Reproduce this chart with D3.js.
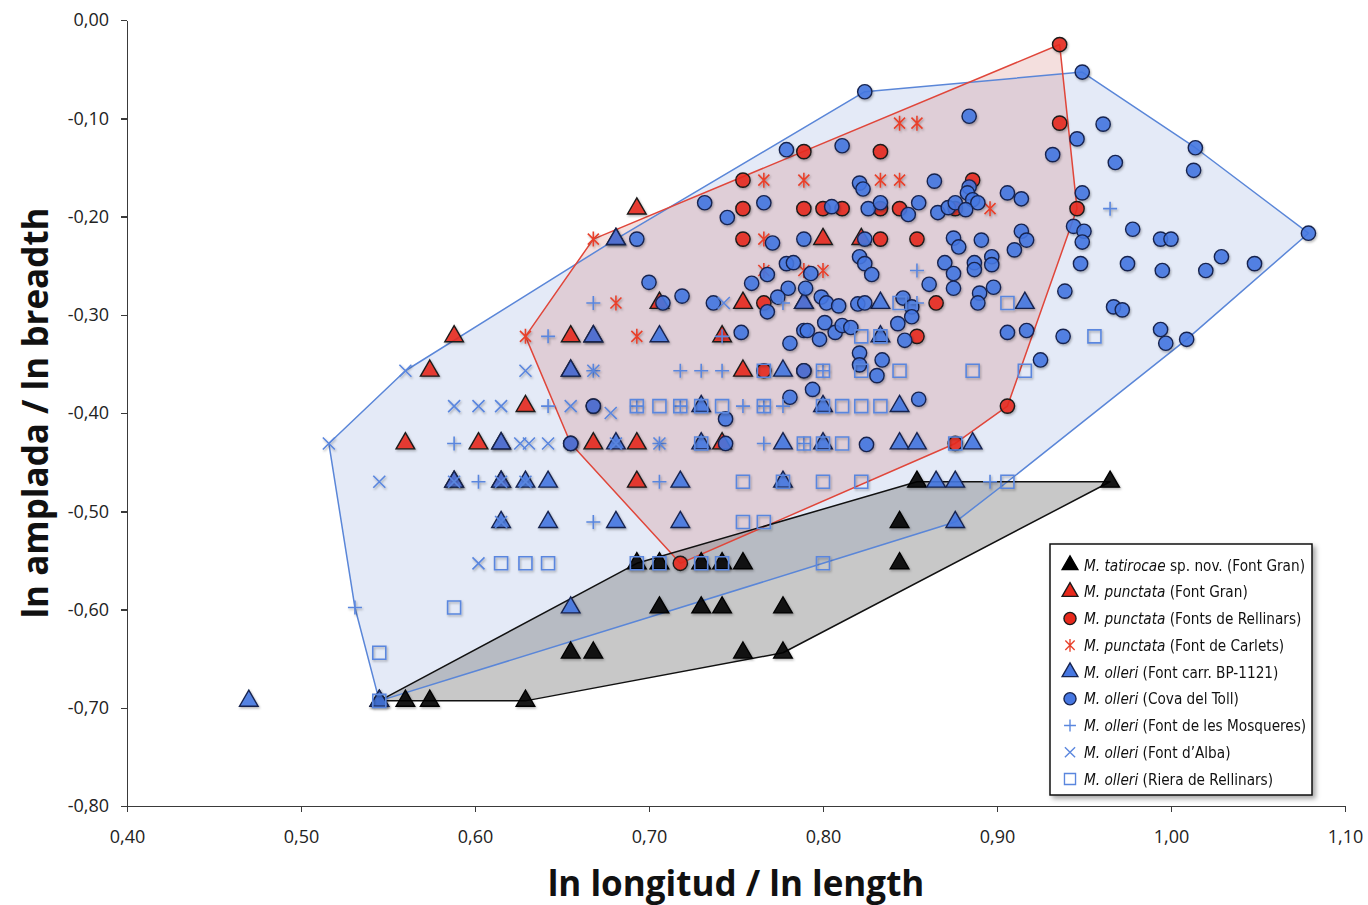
<!DOCTYPE html>
<meta charset="utf-8">
<style>
body { margin: 0; background: #fff; font-family: "Open Sans", sans-serif; }
.axis path, .axis line { fill: none; stroke: #3a3a3a; stroke-width: 1.5; shape-rendering: crispEdges; }
.axis text { font-family: "Open Sans", sans-serif; font-size: 18px; fill: #222; }
.title { font-family: "Open Sans", sans-serif; font-weight: bold; font-size: 35px; fill: #111; }
.legend text { font-family: "Liberation Sans Narrow", "DejaVu Sans Condensed", sans-serif; font-size: 15.2px; fill: #111; }
</style>
<body>
<script src="https://d3js.org/d3.v7.min.js"></script>
<script>
// ln longitud (x), ln amplada (y), one array per population
var tatirocae = [
  [0.545,-0.693],[0.560,-0.693],[0.574,-0.693],[0.629,-0.693],
  [0.655,-0.644],[0.668,-0.644],[0.754,-0.644],[0.777,-0.644],
  [0.706,-0.598],[0.730,-0.598],[0.742,-0.598],[0.777,-0.598],
  [0.693,-0.553],[0.706,-0.553],[0.730,-0.553],[0.742,-0.553],[0.754,-0.553],[0.844,-0.553],
  [0.844,-0.511],[0.854,-0.470],[0.965,-0.470]
];
var punctataFontGran = [
  [0.588,-0.322],[0.574,-0.357],[0.560,-0.431],[0.602,-0.431],[0.615,-0.431],[0.668,-0.431],
  [0.588,-0.470],[0.615,-0.470],[0.629,-0.393],[0.655,-0.322],[0.668,-0.322],[0.655,-0.357],
  [0.693,-0.192],[0.681,-0.223],[0.706,-0.288],[0.754,-0.288],[0.789,-0.288],[0.800,-0.223],
  [0.822,-0.223],[0.742,-0.322],[0.754,-0.357],[0.693,-0.431],[0.742,-0.431],[0.693,-0.470]
];
var punctataRellinars = [
  [0.936,-0.025],[0.936,-0.105],[0.833,-0.134],[0.789,-0.134],[0.754,-0.163],[0.886,-0.163],
  [0.754,-0.192],[0.789,-0.192],[0.800,-0.192],[0.811,-0.192],[0.833,-0.192],[0.844,-0.192],
  [0.876,-0.192],[0.946,-0.192],[0.754,-0.223],[0.833,-0.223],[0.854,-0.223],[0.766,-0.288],
  [0.865,-0.288],[0.854,-0.322],[0.906,-0.393],[0.876,-0.431],[0.718,-0.553],[0.655,-0.431],
  [0.668,-0.393],[0.766,-0.357],[0.789,-0.357]
];
var punctataCarlets = [
  [0.629,-0.322],[0.668,-0.223],[0.766,-0.163],[0.789,-0.163],[0.844,-0.105],[0.854,-0.105],
  [0.833,-0.163],[0.844,-0.163],[0.766,-0.223],[0.766,-0.255],[0.789,-0.255],[0.800,-0.255],
  [0.681,-0.288],[0.693,-0.322],[0.896,-0.192]
];
var olleriBP1121 = [
  [0.470,-0.693],[0.545,-0.693],[0.615,-0.431],[0.588,-0.470],[0.615,-0.470],[0.629,-0.470],
  [0.642,-0.470],[0.615,-0.511],[0.642,-0.511],[0.681,-0.511],[0.718,-0.511],[0.655,-0.598],
  [0.681,-0.431],[0.730,-0.393],[0.730,-0.431],[0.777,-0.357],[0.777,-0.431],[0.800,-0.393],
  [0.800,-0.431],[0.718,-0.470],[0.777,-0.470],[0.706,-0.322],[0.833,-0.288],[0.833,-0.322],
  [0.916,-0.288],[0.844,-0.393],[0.844,-0.431],[0.854,-0.431],[0.886,-0.431],[0.865,-0.470],
  [0.876,-0.470],[0.876,-0.511],[0.668,-0.322],[0.655,-0.357],[0.681,-0.223],[0.789,-0.288]
];
var olleriCovaToll = [
  [0.824,-0.073],[0.949,-0.053],[0.884,-0.098],[0.961,-0.106],[0.946,-0.121],[0.779,-0.132],
  [0.811,-0.128],[0.932,-0.137],[1.014,-0.130],[0.968,-0.145],[1.013,-0.153],[0.864,-0.164],
  [0.884,-0.170],[0.883,-0.176],[0.886,-0.183],[0.889,-0.186],[0.821,-0.166],[0.823,-0.172],
  [0.906,-0.176],[0.914,-0.182],[0.949,-0.176],[0.805,-0.190],[0.826,-0.192],[0.833,-0.186],
  [0.855,-0.186],[0.849,-0.198],[0.866,-0.196],[0.872,-0.191],[0.876,-0.186],[0.882,-0.193],
  [0.732,-0.186],[0.745,-0.201],[0.766,-0.186],[0.693,-0.223],[0.771,-0.227],[0.789,-0.223],
  [0.779,-0.248],[0.783,-0.247],[0.768,-0.259],[0.793,-0.258],[0.700,-0.267],[0.759,-0.268],
  [0.780,-0.273],[0.790,-0.273],[0.719,-0.281],[0.774,-0.282],[0.799,-0.282],[0.802,-0.288],
  [0.809,-0.291],[0.708,-0.288],[0.737,-0.288],[0.768,-0.297],[0.753,-0.318],[0.801,-0.308],
  [0.789,-0.316],[0.791,-0.316],[0.807,-0.318],[0.811,-0.311],[0.816,-0.313],[0.781,-0.329],
  [0.798,-0.325],[0.781,-0.384],[0.794,-0.376],[0.744,-0.406],[0.744,-0.431],[0.944,-0.210],
  [0.950,-0.215],[0.949,-0.226],[0.824,-0.223],[0.875,-0.222],[0.878,-0.231],[0.891,-0.224],
  [0.914,-0.215],[0.917,-0.224],[0.910,-0.234],[0.821,-0.241],[0.824,-0.248],[0.828,-0.259],
  [0.870,-0.247],[0.875,-0.258],[0.887,-0.247],[0.887,-0.254],[0.897,-0.241],[0.897,-0.249],
  [0.861,-0.269],[0.875,-0.273],[0.898,-0.272],[0.890,-0.278],[0.889,-0.288],[0.948,-0.248],
  [0.939,-0.276],[0.820,-0.289],[0.824,-0.288],[0.846,-0.283],[0.851,-0.292],[0.843,-0.309],
  [0.851,-0.302],[0.847,-0.326],[0.906,-0.318],[0.917,-0.316],[0.938,-0.322],[0.821,-0.339],
  [0.834,-0.346],[0.925,-0.346],[0.978,-0.213],[0.994,-0.223],[1.000,-0.223],[1.079,-0.217],
  [0.975,-0.248],[0.995,-0.255],[1.020,-0.255],[1.029,-0.241],[1.048,-0.248],[0.967,-0.292],
  [0.972,-0.295],[0.994,-0.315],[0.997,-0.329],[1.009,-0.325],[0.821,-0.351],[0.831,-0.362],
  [0.855,-0.386],[0.825,-0.432],[0.655,-0.431],[0.668,-0.393],[0.789,-0.357]
];
var olleriMosqueres = [
  [0.531,-0.598],[0.588,-0.431],[0.602,-0.470],[0.642,-0.322],[0.642,-0.393],[0.668,-0.511],
  [0.668,-0.288],[0.668,-0.357],[0.706,-0.431],[0.706,-0.470],[0.718,-0.357],[0.730,-0.357],
  [0.742,-0.357],[0.754,-0.393],[0.777,-0.393],[0.766,-0.431],[0.742,-0.322],[0.854,-0.255],
  [0.854,-0.288],[0.965,-0.192],[0.896,-0.470],[0.693,-0.393],[0.718,-0.393],[0.766,-0.393],
  [0.800,-0.357],[0.789,-0.431],[0.777,-0.288]
];
var olleriAlba = [
  [0.516,-0.431],[0.560,-0.357],[0.545,-0.470],[0.588,-0.393],[0.602,-0.393],[0.615,-0.393],
  [0.629,-0.357],[0.642,-0.431],[0.655,-0.393],[0.626,-0.431],[0.631,-0.431],[0.602,-0.553],
  [0.668,-0.357],[0.706,-0.431],[0.681,-0.431],[0.678,-0.400],[0.588,-0.470],[0.615,-0.470],
  [0.629,-0.470],[0.615,-0.511],[0.743,-0.288]
];
var olleriRiera = [
  [0.545,-0.644],[0.545,-0.693],[0.588,-0.598],[0.615,-0.553],[0.629,-0.553],[0.642,-0.553],
  [0.693,-0.553],[0.706,-0.553],[0.730,-0.553],[0.742,-0.553],[0.800,-0.553],[0.754,-0.511],
  [0.766,-0.511],[0.754,-0.470],[0.777,-0.470],[0.800,-0.470],[0.822,-0.470],[0.906,-0.470],
  [0.693,-0.393],[0.706,-0.393],[0.718,-0.393],[0.730,-0.393],[0.742,-0.393],[0.766,-0.393],
  [0.800,-0.393],[0.811,-0.393],[0.822,-0.393],[0.833,-0.393],[0.730,-0.431],[0.800,-0.431],
  [0.811,-0.431],[0.789,-0.431],[0.766,-0.357],[0.800,-0.357],[0.822,-0.357],[0.844,-0.357],
  [0.886,-0.357],[0.916,-0.357],[0.822,-0.322],[0.833,-0.322],[0.844,-0.288],[0.906,-0.288],
  [0.956,-0.322],[0.876,-0.431]
];

var xTicks = [0.40, 0.50, 0.60, 0.70, 0.80, 0.90, 1.00, 1.10];
var yTicks = [0.00, -0.10, -0.20, -0.30, -0.40, -0.50, -0.60, -0.70, -0.80];

var red = "#e8291c", blue = "#4677e2", navy = "#17244f", lineBlue = "#5a86de";

// drawing order = legend order
var series = [
  { sp: "M. tatirocae", loc: " sp. nov. (Font Gran)", data: tatirocae, type: "tri", fill: "#000", stroke: "#000" },
  { sp: "M. punctata", loc: " (Font Gran)", data: punctataFontGran, type: "tri", fill: red, stroke: "#1a1a1a" },
  { sp: "M. punctata", loc: " (Fonts de Rellinars)", data: punctataRellinars, type: "circle", fill: red, stroke: "#1a1a1a" },
  { sp: "M. punctata", loc: " (Font de Carlets)", data: punctataCarlets, type: "star", fill: "none", stroke: "#e8412c" },
  { sp: "M. olleri", loc: " (Font carr. BP-1121)", data: olleriBP1121, type: "tri", fill: blue, stroke: navy },
  { sp: "M. olleri", loc: " (Cova del Toll)", data: olleriCovaToll, type: "circle", fill: blue, stroke: navy },
  { sp: "M. olleri", loc: " (Font de les Mosqueres)", data: olleriMosqueres, type: "plus", fill: "none", stroke: lineBlue },
  { sp: "M. olleri", loc: " (Font d\u2019Alba)", data: olleriAlba, type: "cross", fill: "none", stroke: lineBlue },
  { sp: "M. olleri", loc: " (Riera de Rellinars)", data: olleriRiera, type: "square", fill: "none", stroke: lineBlue }
];

var W = 1368, H = 905;
var margin = {top: 20, right: 23, bottom: 99, left: 127};

var x = d3.scaleLinear().domain([0.4, 1.1]).range([margin.left, W - margin.right]);
var y = d3.scaleLinear().domain([-0.8, 0]).range([H - margin.bottom, margin.top]);

var svg = d3.select("body").append("svg")
    .attr("width", W)
    .attr("height", H);

var defs = svg.append("defs");
defs.append("filter").attr("id", "shadow").attr("x", "-20%").attr("y", "-20%").attr("width", "140%").attr("height", "140%")
  .append("feDropShadow").attr("dx", 1).attr("dy", 1.5).attr("stdDeviation", 1)
    .attr("flood-color", "#000").attr("flood-opacity", 0.3);
defs.append("filter").attr("id", "boxshadow").attr("x", "-10%").attr("y", "-10%").attr("width", "120%").attr("height", "120%")
  .append("feDropShadow").attr("dx", 3).attr("dy", 3).attr("stdDeviation", 2.5)
    .attr("flood-color", "#000").attr("flood-opacity", 0.35);

function markerPath(type) {
  switch (type) {
    case "tri": return d3.symbol(d3.symbolTriangle, 150)();
    case "circle": return d3.symbol(d3.symbolCircle, 160)();
    case "square": return "M-6.5,-6.5h13v13h-13Z";
    case "plus": return "M-7,0H7M0,-7V7";
    case "cross": return "M-6,-6L6,6M-6,6L6,-6";
    case "star": return "M-5.5,-5.5L5.5,5.5M-5.5,5.5L5.5,-5.5M0,-7.5V7.5";
  }
}

// ---- hulls (convex envelopes of each species) ----
function hullOf(arrays) {
  var pts = [];
  arrays.forEach(function(a) { a.forEach(function(d) { pts.push([x(d[0]), y(d[1])]); }); });
  return d3.polygonHull(pts);
}
var olleriAll = [olleriBP1121, olleriCovaToll, olleriMosqueres, olleriAlba, olleriRiera]
  .map(function(a) { return a.filter(function(d) { return d[0] > 0.5; }); }); // isolated 0,47 point left out
var hulls = [
  { pts: hullOf(olleriAll), fill: "rgba(165,185,228,0.30)", stroke: "#5a86d8" },
  { pts: hullOf([punctataRellinars, punctataCarlets]), fill: "rgba(205,110,105,0.22)", stroke: "#e0463a" },
  { pts: hullOf([tatirocae]), fill: "rgba(110,110,110,0.38)", stroke: "#111" }
];
var line = d3.line();
hulls.forEach(function(h) {
  svg.append("path").attr("d", line(h.pts) + "Z").attr("fill", h.fill).attr("stroke", "none");
});
hulls.forEach(function(h) {
  svg.append("path").attr("d", line(h.pts) + "Z").attr("fill", "none")
    .attr("stroke", h.stroke).attr("stroke-width", 1.5).attr("stroke-linejoin", "round");
});

// ---- axes ----
var fmt = d3.formatLocale({decimal: ",", thousands: ".", grouping: [3], currency: ["", ""], minus: "-"}).format(".2f");

svg.append("g")
    .attr("class", "axis")
    .attr("transform", "translate(" + margin.left + ",0)")
    .call(d3.axisLeft(y).tickValues(yTicks).tickSize(6).tickSizeOuter(0).tickPadding(12).tickFormat(fmt));

svg.append("g")
    .attr("class", "axis")
    .attr("transform", "translate(0," + (H - margin.bottom) + ")")
    .call(d3.axisBottom(x).tickValues(xTicks).tickSize(6).tickSizeOuter(0).tickPadding(18).tickFormat(fmt));

svg.selectAll(".axis .domain").attr("stroke-width", 1.8);

// ---- markers ----
series.forEach(function(s) {
  var g = svg.append("g").attr("filter", "url(#shadow)");
  g.selectAll("path")
      .data(s.data)
    .enter().append("path")
      .attr("d", markerPath(s.type))
      .attr("transform", function(d) { return "translate(" + x(d[0]) + "," + y(d[1]) + ")"; })
      .attr("fill", s.fill)
      .attr("fill-opacity", s.fill === "none" ? null : 0.88)
      .attr("stroke", s.stroke)
      .attr("stroke-width", s.type === "circle" || s.type === "tri" ? 1.4 : 1.6);
});

// ---- axis titles ----
svg.append("text")
    .attr("class", "title")
    .attr("x", (x.range()[0] + x.range()[1]) / 2)
    .attr("y", 896)
    .attr("text-anchor", "middle")
    .text("ln longitud / ln length");

svg.append("text")
    .attr("class", "title")
    .attr("transform", "translate(48," + ((y.range()[0] + y.range()[1]) / 2) + ") rotate(-90)")
    .attr("text-anchor", "middle")
    .text("ln amplada / ln breadth");

// ---- legend ----
var lg = svg.append("g").attr("class", "legend").attr("transform", "translate(1050,544)");
lg.append("rect")
    .attr("width", 262).attr("height", 251)
    .attr("fill", "#fff").attr("stroke", "#111").attr("stroke-width", 1.5)
    .attr("filter", "url(#boxshadow)");

var rows = lg.selectAll(".row")
    .data(series)
  .enter().append("g")
    .attr("class", "row")
    .attr("transform", function(d, i) { return "translate(0," + (21 + i * 26.75) + ")"; });

rows.append("path")
    .attr("d", function(d) { return markerPath(d.type); })
    .attr("transform", "translate(20,0) scale(0.85)")
    .attr("fill", function(d) { return d.fill; })
    .attr("stroke", function(d) { return d.stroke; })
    .attr("stroke-width", 1.6);

var txt = rows.append("text").attr("x", 34).attr("y", 5.5);
txt.append("tspan").attr("font-style", "italic").text(function(d) { return d.sp; });
txt.append("tspan").text(function(d) { return d.loc; });
</script>
</body>
